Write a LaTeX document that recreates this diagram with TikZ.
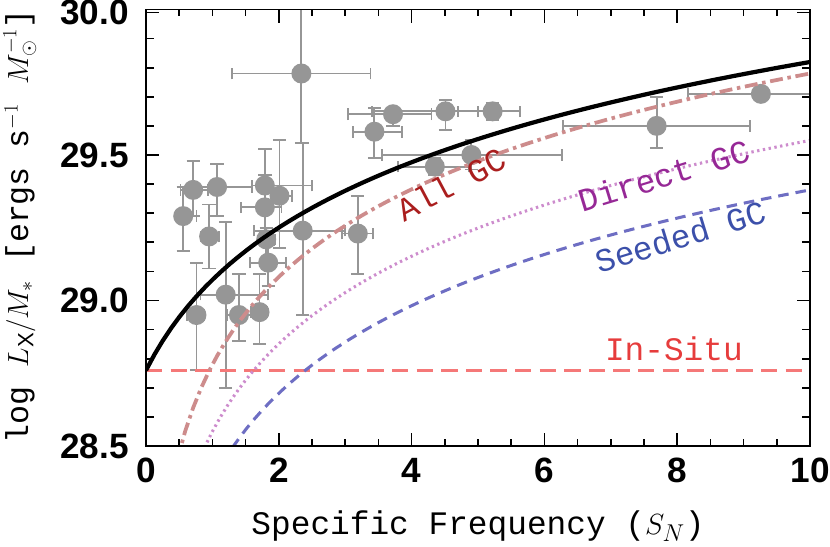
\documentclass[tikz,border=0pt]{standalone}
\usepackage{fontspec}
\setmainfont{Liberation Sans}
\newfontfamily\monofont{Liberation Mono}
\usepackage{amsmath}
\definecolor{ptgray}{RGB}{150,150,150}
\definecolor{allgc}{RGB}{205,140,140}
\definecolor{allgctxt}{RGB}{170,30,30}
\definecolor{directgc}{RGB}{205,140,205}
\definecolor{directtxt}{RGB}{150,40,150}
\definecolor{seededgc}{RGB}{110,110,195}
\definecolor{seededtxt}{RGB}{60,80,170}
\definecolor{insitu}{RGB}{245,120,120}
\definecolor{insitutxt}{RGB}{230,60,60}
\tikzset{
  errbar/.style={ptgray, line width=1.6pt},
  ticklab/.style={font=\fontsize{30}{34}\selectfont\bfseries},
  axlab/.style={font=\fontsize{28}{32}\selectfont\monofont},
  curvelab/.style={font=\fontsize{28}{32}\selectfont\monofont}
}
\begin{document}
\begin{tikzpicture}[x=1.992cm, y=8.73cm]
        \useasboundingbox (-2.199,-0.347) rectangle (10.301,1.5326);
        % data points
        \begin{scope}
          \clip (0,0) rectangle (10,1.5);
          \foreach \s/\v/\xa/\xb/\ya/\yb in {
              2.34/1.28/1.30/3.38/1.04/1.60,
              2.36/0.74/1.63/3.00/0.45/1.04,
              0.56/0.79/0.45/0.76/0.67/0.89,
              0.71/0.88/0.52/0.93/0.79/0.98,
              1.07/0.89/0.75/1.60/0.79/0.97,
              1.79/0.895/1.60/2.50/0.80/1.02,
              2.01/0.86/1.91/2.20/0.68/1.05,
              1.79/0.82/1.43/2.04/0.72/0.93,
              0.95/0.72/0.82/1.10/0.61/0.83,
              1.81/0.71/1.71/1.95/0.63/0.75,
              3.19/0.73/2.95/3.42/0.59/0.86,
              1.84/0.63/1.57/2.11/0.55/0.69,
              1.20/0.52/0.82/1.84/0.20/0.77,
              0.76/0.45/0.62/0.88/0.26/0.63,
              1.40/0.45/1.22/1.75/0.36/0.59,
              1.71/0.46/1.58/1.82/0.35/0.59,
              3.44/1.08/3.12/3.85/0.99/1.16,
              3.72/1.14/3.04/4.30/1.10/1.16,
              4.51/1.15/3.40/5.00/1.085/1.19,
              5.22/1.15/4.70/5.63/1.12/1.18,
              4.35/0.96/3.80/4.86/0.93/0.99,
              4.90/1.00/3.55/6.27/0.95/1.05,
              7.69/1.10/6.28/9.09/1.025/1.20,
              9.26/1.21/8.16/10.50/1.20/1.22}
          {
            \draw[errbar] (\xa,\v) -- (\xb,\v);
            \draw[errbar] (\s,\ya) -- (\s,\yb);
            \draw[errbar] (\xa,\v) ++(0,-0.02) -- ++(0,0.04);
            \draw[errbar] (\xb,\v) ++(0,-0.02) -- ++(0,0.04);
            \draw[errbar] (\s,\ya) ++(-0.1,0) -- ++(0.2,0);
            \draw[errbar] (\s,\yb) ++(-0.1,0) -- ++(0.2,0);
            \fill[ptgray] (\s,\v) circle (0.3cm);
          }
          % model curves
          \draw[insitu, line width=2.6pt, dash pattern=on 14pt off 7pt] (0,0.26) -- (10,0.26);
          \draw[seededgc, line width=2.6pt, dash pattern=on 9pt off 6pt, domain=1.3:10, samples=80]
            plot (\x, {-0.12+ln(\x)/ln(10)});
          \draw[directgc, line width=2.6pt, dash pattern=on 2pt off 3pt, domain=0.88:10, samples=80]
            plot (\x, {0.05+ln(\x)/ln(10)});
          \draw[allgc, line width=3.2pt, dash pattern=on 11pt off 4pt on 3pt off 4pt, domain=0.47:10, samples=80]
            plot (\x, {0.28+ln(\x)/ln(10)});
          \draw[black, line width=3.6pt, domain=0:10, samples=80]
            plot (\x, {ln(1.820+1.905*\x)/ln(10)});
        \end{scope}
        % frame and ticks
        \draw[line width=1.6pt] (0,0) rectangle (10,1.5);
        \foreach \t in {0.5,1,...,9.5} {
          \draw[line width=1.4pt] (\t,0) -- ++(0,0.024);
          \draw[line width=1.4pt] (\t,1.5) -- ++(0,-0.024);
        }
        \foreach \t in {0,2,...,10} {
          \draw[line width=1.4pt] (\t,0) -- ++(0,0.045);
          \draw[line width=1.4pt] (\t,1.5) -- ++(0,-0.045);
          \node[ticklab, below=7pt] (xt\t) at (\t,0) {\t};
        }
        \foreach \t in {0.1,0.2,...,1.45} {
          \draw[line width=1.4pt] (0,\t) -- ++(0.12,0);
          \draw[line width=1.4pt] (10,\t) -- ++(-0.12,0);
        }
        \foreach \t/\lab in {0/28.5,0.5/29.0,1/29.5,1.49/30.0} {
          \draw[line width=1.4pt] (0,\t) -- ++(0.2,0);
          \draw[line width=1.4pt] (10,\t) -- ++(-0.2,0);
          \node[ticklab, anchor=east] at (-0.2,\t) {\lab};
        }
        % labels
        \node[axlab] (xlab) at (5,-0.275) {Specific Frequency ($S_N$)};
        \node[axlab, rotate=90, font=\fontsize{27}{31}\selectfont\monofont] (ylab) at (-1.9,0.755)
          {log $L_{\mathrm{X}}/M_{*}$ [ergs s$^{-1}$ $M_{\odot}^{-1}$]};
        \node[curvelab, allgctxt, rotate=28] (lall) at (4.6,0.90) {All GC};
        \node[curvelab, directtxt, rotate=17] (ldir) at (7.8,0.93) {Direct GC};
        \node[curvelab, seededtxt, rotate=17] (lseed) at (8.05,0.72) {Seeded GC};
        \node[curvelab, insitutxt] (lins) at (7.95,0.335) {In-Situ};
      \end{tikzpicture}
\end{document}
